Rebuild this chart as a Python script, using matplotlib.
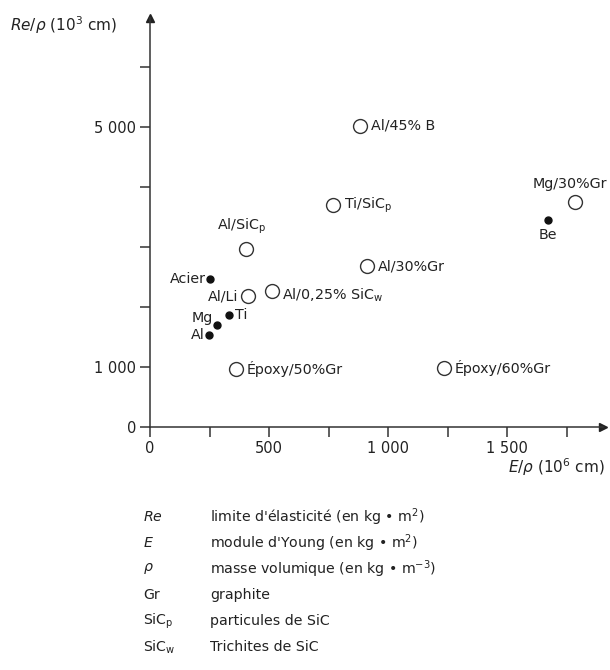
import matplotlib
matplotlib.use('Agg')
import matplotlib.pyplot as plt

plt.rcParams['font.family'] = ['DejaVu Sans']
plt.rcParams['mathtext.fontset'] = 'dejavusans'
plt.rcParams['mathtext.default'] = 'regular'

# materials: E/rho (10^6 cm), Re/rho (10^3 cm)
composites = ['Al/45% B', 'Ti/SiC$_\\mathrm{p}$', 'Al/SiC$_\\mathrm{p}$', 'Al/30%Gr', 'Al/Li',
              'Al/0,25% SiC$_\\mathrm{w}$', 'Époxy/50%Gr', 'Époxy/60%Gr', 'Mg/30%Gr']
comp_x = [882, 769, 403, 912, 412, 512, 361, 1235, 1786]
comp_y = [5017, 3700, 2967, 2683, 2183, 2267, 967, 983, 3750]

metals = ['Be', 'Acier', 'Ti', 'Mg', 'Al']
metal_x = [1672, 252, 332, 281, 248]
metal_y = [3450, 2467, 1867, 1700, 1533]

x_ticks = [0, 250, 500, 750, 1000, 1250, 1500, 1750]
x_labels = ['0', '', '500', '', '1 000', '', '1 500', '']
y_ticks = [0, 1000, 2000, 3000, 4000, 5000, 6000]
y_labels = ['0', '1 000', '', '', '', '5 000', '']

legend_keys = ['$\\it{Re}$', '$\\it{E}$', '$\\it{\\rho}$', 'Gr', 'SiC$_\\mathrm{p}$', 'SiC$_\\mathrm{w}$']
legend_text = ["limite d'élasticité (en kg • m$^2$)", "module d'Young (en kg • m$^2$)",
               'masse volumique (en kg • m$^{-3}$)', 'graphite', 'particules de SiC',
               'Trichites de SiC']

# label placement (offset in points, ha, va)
comp_place = [((8, 0), 'left', 'center'), ((8, 0), 'left', 'center'), ((-3, 9), 'center', 'bottom'),
              ((8, 0), 'left', 'center'), ((-7, 0), 'right', 'center'), ((7, -3), 'left', 'center'),
              ((8, 0), 'left', 'center'), ((8, 0), 'left', 'center'), ((-4, 8), 'center', 'bottom')]
metal_place = [((0, -6), 'center', 'top'), ((-3, 0), 'right', 'center'), ((4, 0), 'left', 'center'),
               ((-3, 5), 'right', 'center'), ((-3, 0), 'right', 'center')]

W, H = 610, 670
fig = plt.figure(figsize=(W / 100, H / 100), dpi=100)
x0, x1, y0, y1 = 150, 603, 427, 18
ax = fig.add_axes([x0 / W, 1 - y0 / H, (x1 - x0) / W, (y0 - y1) / H])
ax.set_xlim(0, (x1 - x0) / 119 * 500)
ax.set_ylim(0, (y0 - y1) / 60 * 1000)

for s in ['top', 'right']:
    ax.spines[s].set_visible(False)
for s in ['left', 'bottom']:
    ax.spines[s].set_linewidth(1.1)
    ax.spines[s].set_color('#333333')

ax.set_xticks(x_ticks)
ax.set_xticklabels(x_labels)
ax.set_yticks(y_ticks)
ax.set_yticklabels(y_labels)
ax.tick_params(direction='out', length=7, width=1.1, colors='#333333', labelsize=10.5,
               labelcolor='#222222', pad=3)

# arrow heads
ax.plot(1, 0, '>', color='#222222', ms=6, transform=ax.transAxes, clip_on=False)
ax.plot(0, 1, '^', color='#222222', ms=6, transform=ax.transAxes, clip_on=False)

ax.plot(comp_x, comp_y, 'o', mfc='white', mec='#333333', mew=1.0, ms=10, clip_on=False)
ax.plot(metal_x, metal_y, 'o', color='#111111', ms=5, clip_on=False)

for name, x, y, (off, ha, va) in zip(composites, comp_x, comp_y, comp_place):
    ax.annotate(name, (x, y), xytext=off, textcoords='offset points', ha=ha, va=va,
                fontsize=10.3, color='#222222')
for name, x, y, (off, ha, va) in zip(metals, metal_x, metal_y, metal_place):
    ax.annotate(name, (x, y), xytext=off, textcoords='offset points', ha=ha, va=va,
                fontsize=10.3, color='#222222')

fig.text(10 / W, 1 - 25 / H, '$\\it{Re/\\rho}$ (10$^3$ cm)', fontsize=11, va='center', color='#222222')
fig.text(508 / W, 1 - 467 / H, '$\\it{E/\\rho}$ (10$^6$ cm)', fontsize=11, ha='left', va='center',
         color='#222222')

for i, (k, t) in enumerate(zip(legend_keys, legend_text)):
    yy = 1 - (517 + i * 26) / H
    fig.text(143 / W, yy, k, fontsize=10.2, va='center', color='#222222')
    fig.text(210 / W, yy, t, fontsize=10.2, va='center', color='#222222')

fig.savefig('out.png', dpi=100)
